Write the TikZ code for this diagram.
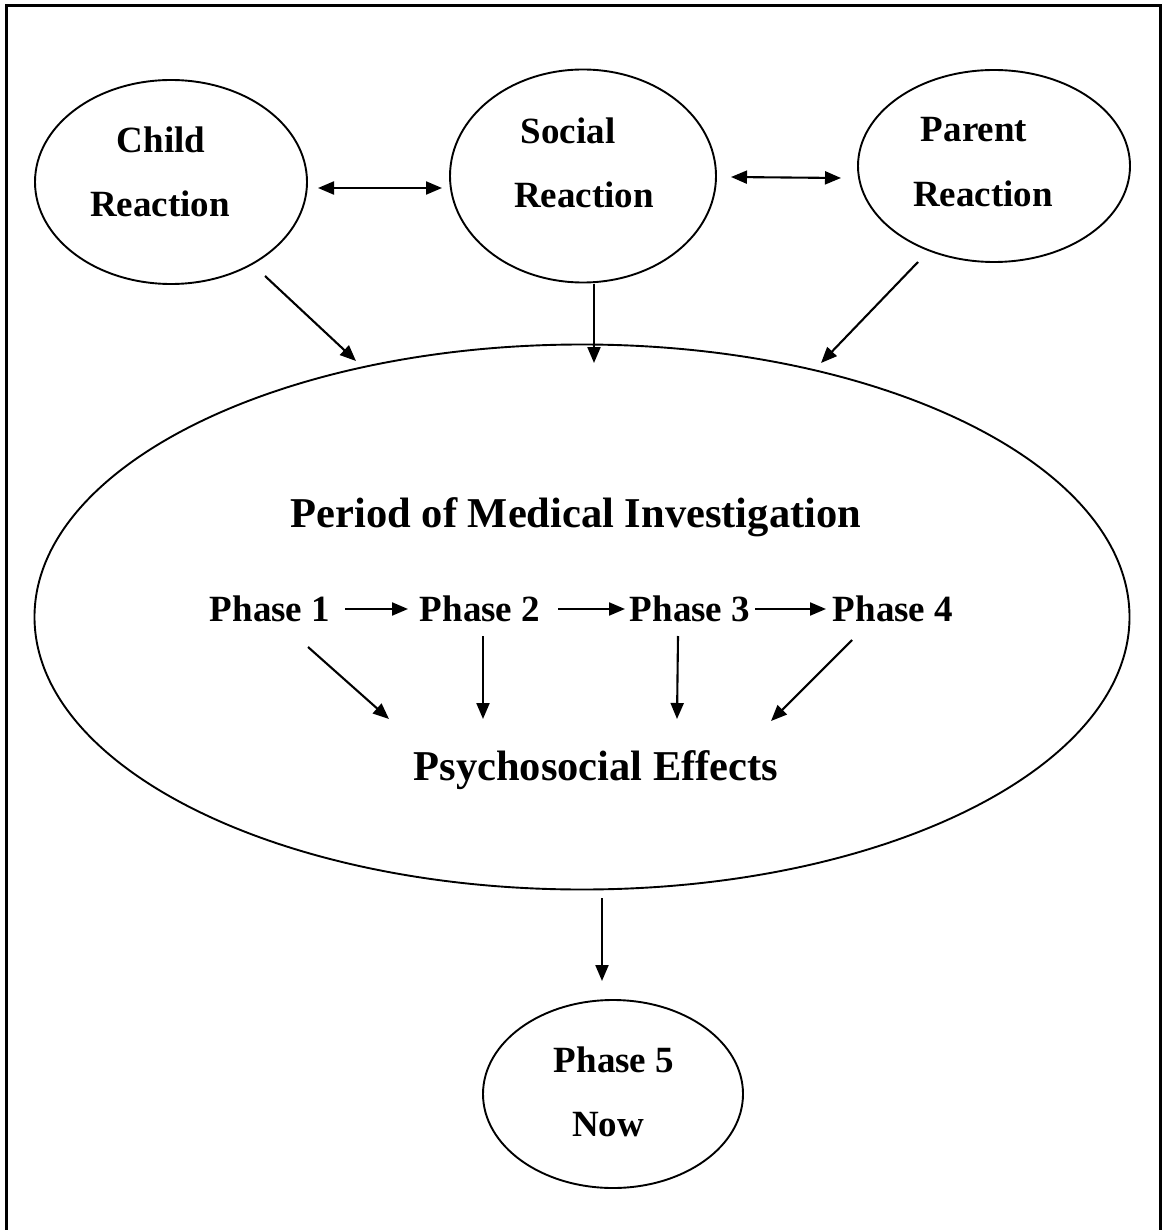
\documentclass[tikz,border=0pt]{standalone}
\usepackage{fontspec}
\setmainfont{Liberation Serif}
\usetikzlibrary{shapes.geometric,arrows.meta}
\tikzset{
  oval/.style={draw, ellipse, line width=1.9pt, inner sep=0pt},
  small/.style={font=\fontsize{37}{44}\selectfont\bfseries, inner sep=0pt, anchor=base},
  big/.style={font=\fontsize{42.5}{50}\selectfont\bfseries, inner sep=0pt, anchor=base},
  arr/.style={line width=2.1pt, -{Triangle[length=16pt,width=13pt]}},
  darr/.style={line width=2.1pt, {Triangle[length=16pt,width=13pt]}-{Triangle[length=16pt,width=13pt]}}
}
\begin{document}
\begin{tikzpicture}[x=1pt,y=-1pt]
\useasboundingbox (0,0) rectangle (1162,1230);
% frame (no bottom edge)
\draw[line width=3pt] (6,1232) -- (6,6) -- (1160,6) -- (1160,1232);

% ovals
\node[oval, minimum width=272pt, minimum height=204pt] (childE) at (171,182) {};
\node[oval, minimum width=266pt, minimum height=213pt] (socialE) at (583,176) {};
\node[oval, minimum width=272pt, minimum height=192pt] (parentE) at (994,166) {};
\node[oval, minimum width=1095pt, minimum height=545pt] (bigE) at (582,617) {};
\node[oval, minimum width=260pt, minimum height=188pt] (nowE) at (613,1094) {};

% texts
\node[small] (child) at (161,153) {Child};
\node[small] (childR) at (160,217) {Reaction};
\node[small] (social) at (568,144) {Social};
\node[small] (socialR) at (584,208) {Reaction};
\node[small] (parent) at (974,142) {Parent};
\node[small] (parentR) at (983,207) {Reaction};
\node[big] (period) at (576,527) {Period of Medical Investigation};
\node[small] (p1) at (270,621) {Phase 1};
\node[small] (p2) at (480,621) {Phase 2};
\node[small] (p3) at (690,621) {Phase 3};
\node[small] (p4) at (893,621) {Phase 4};
\node[big] (psy) at (596,780) {Psychosocial Effects};
\node[small] (p5) at (614,1072) {Phase 5};
\node[small] (now) at (608,1136) {Now};

% connector end points
\coordinate (a1) at (318,188); \coordinate (a2) at (442,188);
\coordinate (b1) at (731,177); \coordinate (b2) at (841,178);
\coordinate (c1) at (265,276); \coordinate (c2) at (356,361);
\coordinate (d1) at (594,284); \coordinate (d2) at (594,363);
\coordinate (e1) at (918,262); \coordinate (e2) at (821,363);
\coordinate (f1) at (345,609); \coordinate (f2) at (408,609);
\coordinate (g1) at (558,609); \coordinate (g2) at (625,609);
\coordinate (h1) at (755,609); \coordinate (h2) at (826,609);
\coordinate (i1) at (308,647); \coordinate (i2) at (389,719);
\coordinate (j1) at (483,636); \coordinate (j2) at (483,719);
\coordinate (k1) at (678,636); \coordinate (k2) at (677,719);
\coordinate (l1) at (852,640); \coordinate (l2) at (771,721);
\coordinate (m1) at (602,898); \coordinate (m2) at (602,981);

\draw[darr] (a1) -- (a2);
\draw[darr] (b1) -- (b2);
\draw[arr] (c1) -- (c2);
\draw[arr] (d1) -- (d2);
\draw[arr] (e1) -- (e2);
\draw[arr] (f1) -- (f2);
\draw[arr] (g1) -- (g2);
\draw[arr] (h1) -- (h2);
\draw[arr] (i1) -- (i2);
\draw[arr] (j1) -- (j2);
\draw[arr] (k1) -- (k2);
\draw[arr] (l1) -- (l2);
\draw[arr] (m1) -- (m2);
\end{tikzpicture}
\end{document}
